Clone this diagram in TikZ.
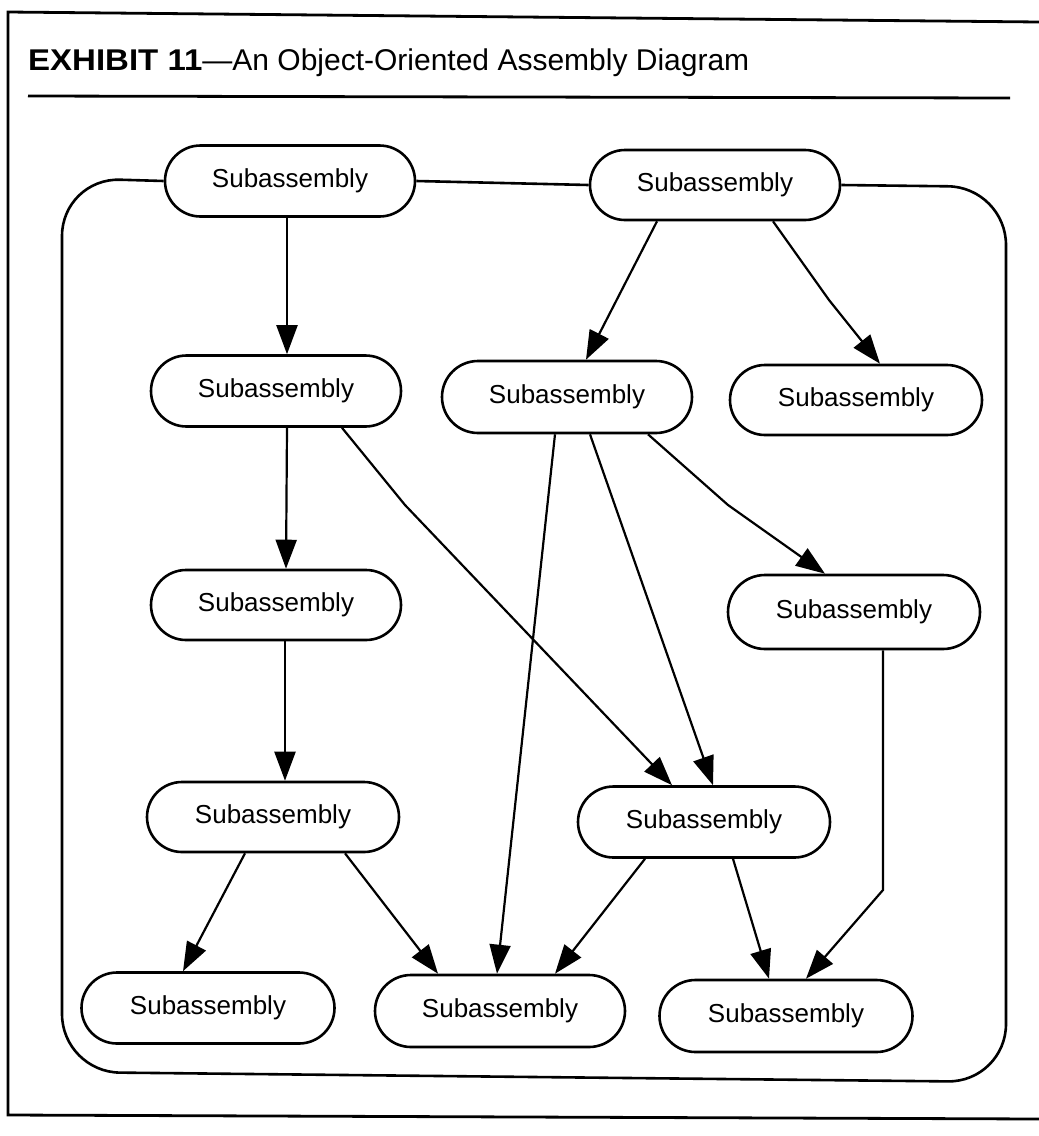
\documentclass[tikz,border=0pt]{standalone}
\usepackage{fontspec}
\setmainfont{Liberation Sans}
\newfontface\exhibitface[FakeStretch=1.1]{Liberation Sans Bold}
\usetikzlibrary{shapes.misc,arrows.meta,calc}
\begin{document}
\begin{tikzpicture}[x=1pt,y=-1pt,
  sub/.style={rounded rectangle, draw, line width=2.6pt, fill=white,
    minimum width=250pt, minimum height=71pt, inner sep=0pt,
    font=\fontsize{26}{30}\selectfont},
  conn/.style={line width=2.2pt, -{Triangle[length=29pt,width=21pt]}},
  frameline/.style={line width=2.8pt},
  container/.style={line width=2.6pt, rounded corners=58pt}]
\useasboundingbox (0,0) rectangle (1039,1136);

% outer frame and title
\coordinate (ftl) at (8,12);
\coordinate (ftr) at (1039,22);
\coordinate (fbl) at (8,1115);
\coordinate (fbr) at (1039,1119);
\draw[frameline] (ftr) -- (ftl) -- (fbl) -- (fbr);
\node[anchor=base west, inner sep=0pt, font=\fontsize{30}{36}\selectfont] (title) at (28,70)
  {{\exhibitface EXHIBIT 11}—An Object-Oriented Assembly Diagram};
\coordinate (rl) at (28,96);
\coordinate (rr) at (1010,98);
\draw[frameline] (rl) -- (rr);

% nodes
\node[sub] (n1) at (290,181) {Subassembly};
\node[sub, minimum height=70pt] (n2) at (715,185) {Subassembly};
\node[sub] (n3) at (276,391) {Subassembly};
\node[sub, minimum height=72pt] (n4) at (567,397) {Subassembly};
\node[sub, minimum width=252pt, minimum height=70pt] (n5) at (856,400) {Subassembly};
\node[sub, minimum height=70pt] (n6) at (276,605) {Subassembly};
\node[sub, minimum width=252pt, minimum height=74pt] (n7) at (854,612) {Subassembly};
\node[sub, minimum width=252pt, minimum height=70pt] (n8) at (273,817) {Subassembly};
\node[sub, minimum width=252pt] (n9) at (704,822) {Subassembly};
\node[sub, minimum width=253pt] (n10) at (208,1008) {Subassembly};
\node[sub, minimum height=72pt] (n11) at (500,1011) {Subassembly};
\node[sub, minimum width=253pt, minimum height=72pt] (n12) at (786,1016) {Subassembly};

% container
\draw[container] (n1.west) -- (62,178) -- (62,1072) -- (1006,1082) -- (1006,187) -- (n2.east);
\draw[line width=2.6pt] (n1.east) -- (n2.west);

% connectors
\draw[conn] ($(n1.south)+(-3,0)$) -- ($(n3.north)+(11,0)$);
\draw[conn] ($(n3.south)+(11,0)$) -- ($(n6.north)+(10,0)$);
\draw[conn] ($(n6.south)+(9,0)$) -- ($(n8.north)+(12,0)$);
\draw[conn] ($(n2.south)+(-58,0)$) -- ($(n4.north)+(19,0)$);
\draw[conn] ($(n2.south)+(58,0)$) -- (829,300) -- ($(n5.north)+(24,0)$);
\draw[conn] ($(n3.south)+(66,0)$) -- (405,505) -- ($(n9.north)+(-32,0)$);
\draw[conn] ($(n4.south)+(-12,0)$) -- ($(n11.north)+(-3,0)$);
\draw[conn] ($(n4.south)+(23,0)$) -- ($(n9.north)+(9,0)$);
\draw[conn] ($(n4.south)+(81,0)$) -- (728,505) -- ($(n7.north)+(-29,0)$);
\draw[conn] ($(n8.south)+(-28,0)$) -- ($(n10.north)+(-25,0)$);
\draw[conn] ($(n8.south)+(72,0)$) -- ($(n11.north)+(-62,0)$);
\draw[conn] ($(n9.south)+(-59,0)$) -- ($(n11.north)+(55,0)$);
\draw[conn] ($(n9.south)+(29,0)$) -- ($(n12.north)+(-17,0)$);
\draw[conn] ($(n7.south)+(29,0)$) -- (883,890) -- ($(n12.north)+(20,0)$);
\end{tikzpicture}
\end{document}
